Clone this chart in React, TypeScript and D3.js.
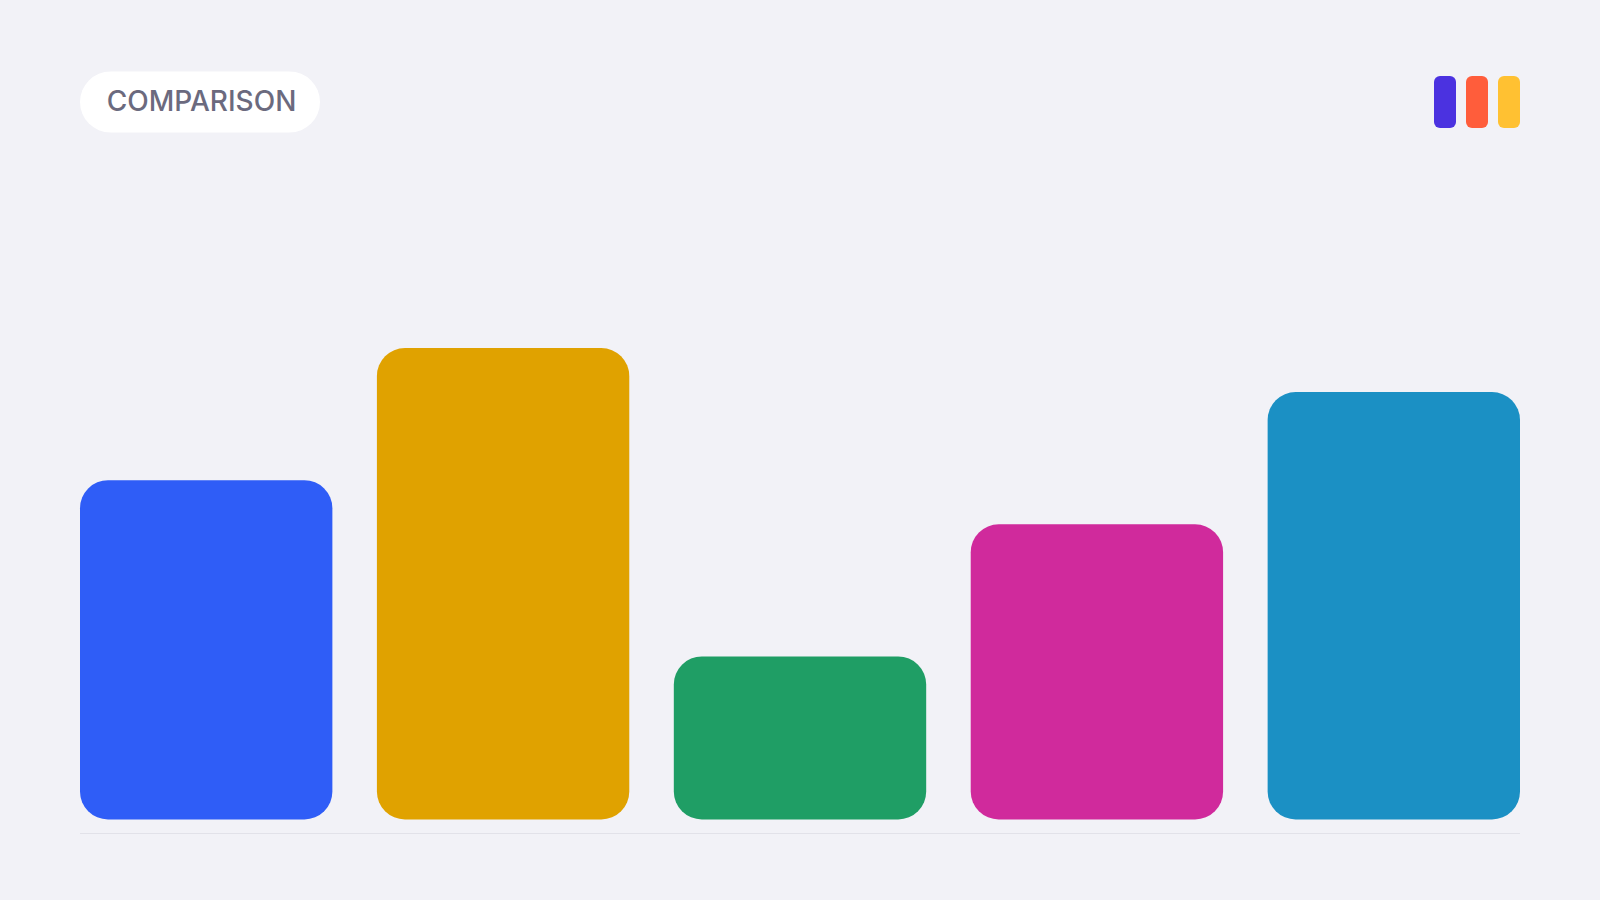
import React from "react";
import * as d3 from "d3";

const categories = ["A", "B", "C", "D", "E"];
const values = [77, 107, 37, 67, 97];
const barColors = ["#2f5df7", "#e0a200", "#1f9e65", "#d02a9c", "#1b90c4"];
const logoColors = ["#4b32e0", "#ff5d3b", "#ffc132"];
const title = "COMPARISON";

const W = 1600;
const H = 900;
const left = 80;
const right = 1520;
const baseY = 819.5;
const topY = 348;

export default function App() {
  const x = d3.scaleBand<string>().domain(categories).range([left, right]).paddingInner(0.15).paddingOuter(0);
  const y = d3.scaleLinear().domain([0, d3.max(values)!]).range([baseY, topY]);
  const r = 28;
  const logoX = d3.scaleBand<number>().domain(d3.range(logoColors.length)).range([1434, 1520]).paddingInner(10 / 32);

  return (
    <svg
      width={W}
      height={H}
      style={{ position: "absolute", left: 0, top: 0, display: "block" }}
      fontFamily="Inter, 'Noto Sans', sans-serif"
    >
      <rect x={0} y={0} width={W} height={H} fill="#f2f2f7" />
      <rect x={80} y={71.5} width={240} height={61} rx={30.5} fill="#ffffff" />
      <text x={201.5} y={111} textAnchor="middle" fontSize={28} fontWeight={500} fill="#6b6a7e">
        {title}
      </text>
      {logoColors.map((c, i) => (
        <rect key={i} x={logoX(i)} y={76} width={logoX.bandwidth()} height={52} rx={6} fill={c} />
      ))}
      <line x1={left} x2={right} y1={833.5} y2={833.5} stroke="#e2e2e9" strokeWidth={1} />
      {categories.map((c, i) => {
        const x0 = x(c)!;
        const yt = y(values[i]);
        return (
          <rect
            key={c}
            x={x0}
            y={yt}
            width={x.bandwidth()}
            height={baseY - yt}
            rx={r}
            fill={barColors[i]}
          />
        );
      })}
    </svg>
  );
}
